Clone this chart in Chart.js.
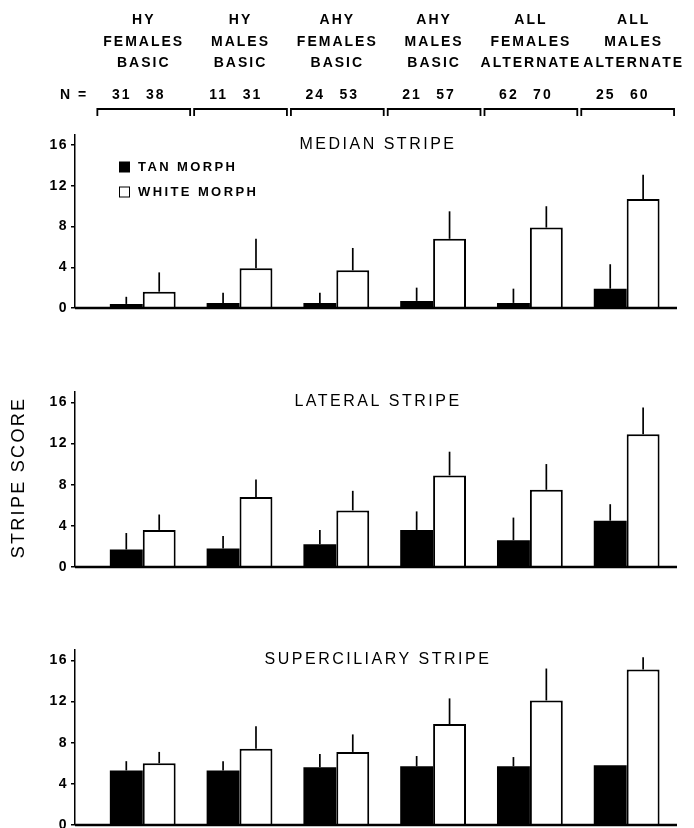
<!DOCTYPE html>
<html><head><meta charset="utf-8">
<script src="https://cdn.jsdelivr.net/npm/chart.js@4.4.1/dist/chart.umd.min.js"></script>
<style>
html,body{margin:0;padding:0;background:#fff;}
#wrap{position:relative;width:694px;height:828px;overflow:hidden;background:#fff;}
canvas{position:absolute;left:0;}
</style></head><body>
<div id="wrap">
<canvas id="c1" width="694" height="320" style="top:0px"></canvas>
<canvas id="c2" width="694" height="250" style="top:330px"></canvas>
<canvas id="c3" width="694" height="250" style="top:590px"></canvas>
</div>
<script>
// ---- data ----
const groupLabels = [
  ['HY','FEMALES','BASIC'],
  ['HY','MALES','BASIC'],
  ['AHY','FEMALES','BASIC'],
  ['AHY','MALES','BASIC'],
  ['ALL','FEMALES','ALTERNATE'],
  ['ALL','MALES','ALTERNATE']
];
const groupIndex = [0, 1, 2, 3, 4, 5];
const nTan   = [31, 11, 24, 21, 62, 25];
const nWhite = [38, 31, 53, 57, 70, 60];
const seriesNames = ['TAN MORPH', 'WHITE MORPH'];
const yTicks = [0, 4, 8, 12, 16];
const yAxisTitle = 'STRIPE SCORE';

const medianTitle = 'MEDIAN STRIPE';
const medianTan    = [0.4, 0.5, 0.5, 0.7, 0.5, 1.9];
const medianTanSD  = [0.7, 1.0, 1.0, 1.3, 1.4, 2.4];
const medianWhite  = [1.6, 3.9, 3.7, 6.8, 7.9, 10.7];
const medianWhiteSD= [1.9, 2.9, 2.2, 2.7, 2.1, 2.4];

const lateralTitle = 'LATERAL STRIPE';
const lateralTan    = [1.7, 1.8, 2.2, 3.6, 2.6, 4.5];
const lateralTanSD  = [1.6, 1.2, 1.4, 1.8, 2.2, 1.6];
const lateralWhite  = [3.6, 6.8, 5.5, 8.9, 7.5, 12.9];
const lateralWhiteSD= [1.5, 1.7, 1.9, 2.3, 2.5, 2.6];

const superTitle = 'SUPERCILIARY STRIPE';
const superTan    = [5.3, 5.3, 5.6, 5.7, 5.7, 5.8];
const superTanSD  = [0.9, 0.9, 1.3, 1.0, 0.9, 0.0];
const superWhite  = [6.0, 7.4, 7.1, 9.8, 12.1, 15.1];
const superWhiteSD= [1.1, 2.2, 1.7, 2.5, 3.1, 1.2];

// ---- helpers ----
const FONT = '"Liberation Sans", Arial, Helvetica, sans-serif';
function setLS(ctx, v){ try { ctx.letterSpacing = v; } catch(e){} }

const spacingPlugin = {
  id: 'spacing',
  beforeDraw(chart){ setLS(chart.ctx, '1.5px'); }
};

const errBarPlugin = {
  id: 'errbars',
  afterDatasetsDraw(chart){
    const ctx = chart.ctx, y = chart.scales.y, x = chart.scales.x;
    ctx.save();
    chart.data.datasets.forEach((ds, di) => {
      const meta = chart.getDatasetMeta(di);
      meta.data.forEach((bar, i) => {
        const sd = ds.sdValues[i];
        if (!sd) return;
        const top = y.getPixelForValue(ds.data[i].y + sd);
        ctx.strokeStyle = '#000';
        ctx.lineWidth = 1.7;
        ctx.beginPath();
        ctx.moveTo(bar.x, bar.y);
        ctx.lineTo(bar.x, top);
        ctx.stroke();
      });
    });
    // baseline
    const y0 = y.getPixelForValue(0);
    ctx.strokeStyle = '#000';
    ctx.lineWidth = 2.5;
    ctx.beginPath();
    ctx.moveTo(x.left, y0);
    ctx.lineTo(x.right, y0);
    ctx.stroke();
    // panel title
    const ca = chart.chartArea;
    ctx.fillStyle = '#000';
    ctx.font = '16px ' + FONT;
    setLS(ctx, '2.5px');
    ctx.textAlign = 'center';
    ctx.textBaseline = 'middle';
    ctx.fillText(chart.options.plugins.panelTitle.text, (ca.left + ca.right) / 2 + 2, y.getPixelForValue(16) - 1);
    ctx.restore();
  }
};

const legendPlugin = {
  id: 'customLegend',
  afterDraw(chart){
    const ctx = chart.ctx, ca = chart.chartArea;
    ctx.save();
    const bx = ca.left + 44;
    const rows = [ca.top + 32, ca.top + 57];
    chart.data.datasets.forEach((ds, i) => {
      const cy = rows[i];
      if (i === 0) {
        ctx.fillStyle = '#000';
        ctx.fillRect(bx, cy - 5.5, 11, 11);
      } else {
        ctx.fillStyle = '#fff';
        ctx.fillRect(bx, cy - 5.5, 11, 11);
        ctx.strokeStyle = '#000';
        ctx.lineWidth = 1;
        ctx.strokeRect(bx + 0.5, cy - 5, 10, 10);
      }
      ctx.fillStyle = '#000';
      ctx.font = 'bold 13px ' + FONT;
      setLS(ctx, '2.4px');
      ctx.textAlign = 'left';
      ctx.textBaseline = 'middle';
      ctx.fillText(ds.label, bx + 19, cy + 0.5);
    });
    ctx.restore();
  }
};

const headerPlugin = {
  id: 'header',
  afterDraw(chart){
    const ctx = chart.ctx, x = chart.scales.x;
    ctx.save();
    ctx.fillStyle = '#000';
    ctx.strokeStyle = '#000';
    ctx.font = 'bold 14px ' + FONT;
    setLS(ctx, '2px');
    ctx.textBaseline = 'middle';
    const lineY = [20, 42, 63];
    groupLabels.forEach((lines, i) => {
      const cx = x.getPixelForValue(i) + (i === 5 ? 6 : 0);
      ctx.textAlign = 'center';
      lines.forEach((t, k) => ctx.fillText(t, cx + 1, lineY[k]));
    });
    // N row
    ctx.textAlign = 'left';
    ctx.fillText('N =', 60, 95);
    ctx.textAlign = 'center';
    for (let i = 0; i < nTan.length; i++) {
      const cx = x.getPixelForValue(i);
      ctx.fillText(String(nTan[i]), cx - 21, 95);
      ctx.fillText(String(nWhite[i]), cx + 13, 95);
    }
    // brackets
    ctx.lineWidth = 1.8;
    for (let i = 0; i < nTan.length; i++) {
      const l = x.getPixelForValue(i - 0.5) + 3;
      const r = x.getPixelForValue(i + 0.5) - 1;
      ctx.beginPath();
      ctx.moveTo(l, 116);
      ctx.lineTo(l, 109);
      ctx.lineTo(r, 109);
      ctx.lineTo(r, 116);
      ctx.stroke();
    }
    ctx.restore();
  }
};

const yTitlePlugin = {
  id: 'yTitle',
  afterDraw(chart){
    const ctx = chart.ctx, ca = chart.chartArea;
    ctx.save();
    ctx.translate(19, (ca.top + ca.bottom) / 2 - 2);
    ctx.rotate(-Math.PI / 2);
    ctx.fillStyle = '#000';
    ctx.font = '18px ' + FONT;
    setLS(ctx, '2.3px');
    ctx.textAlign = 'center';
    ctx.textBaseline = 'middle';
    ctx.fillText(yAxisTitle, 0, 0);
    ctx.restore();
  }
};

function toXY(arr){ return arr.map((v, i) => ({x: groupIndex[i], y: v})); }

function makePanel(id, title, tan, tanSD, white, whiteSD, padTop, padBottom, extra){
  return new Chart(document.getElementById(id), {
    type: 'bar',
    data: {
      datasets: [
        { label: seriesNames[0], data: toXY(tan), sdValues: tanSD,
          backgroundColor: '#000', borderWidth: 0 },
        { label: seriesNames[1], data: toXY(white), sdValues: whiteSD,
          backgroundColor: '#fff', borderColor: '#000', borderWidth: 2, borderSkipped: 'start' }
      ]
    },
    options: {
      responsive: false,
      animation: false,
      events: [],
      layout: { padding: { top: padTop, bottom: padBottom, left: 0, right: 17 } },
      datasets: { bar: { categoryPercentage: 0.68, barPercentage: 1.0, grouped: true } },
      scales: {
        x: {
          type: 'linear', min: -0.70, max: 5.52, offset: false, display: false,
          afterBuildTicks(s){ s.ticks = groupIndex.map(v => ({value: v})); }
        },
        y: {
          min: 0, max: 17,
          afterBuildTicks(s){ s.ticks = yTicks.map(v => ({value: v})); },
          afterFit(s){ s.width = 75; },
          ticks: { color: '#000', font: { family: FONT, size: 14, weight: 'bold' }, padding: 3 },
          grid: { display: true, drawOnChartArea: false, drawTicks: true, tickLength: 4, color: '#000', lineWidth: 1.5 },
          border: { display: true, color: '#000', width: 1.5 }
        }
      },
      plugins: {
        legend: { display: false },
        tooltip: { enabled: false },
        panelTitle: { text: title }
      }
    },
    plugins: [spacingPlugin, errBarPlugin].concat(extra || [])
  });
}

makePanel('c1', medianTitle, medianTan, medianTanSD, medianWhite, medianWhiteSD, 135, 12, [legendPlugin, headerPlugin]);
makePanel('c2', lateralTitle, lateralTan, lateralTanSD, lateralWhite, lateralWhiteSD, 62, 13, [yTitlePlugin]);
makePanel('c3', superTitle, superTan, superTanSD, superWhite, superWhiteSD, 60, 15, []);
</script>
</body></html>
